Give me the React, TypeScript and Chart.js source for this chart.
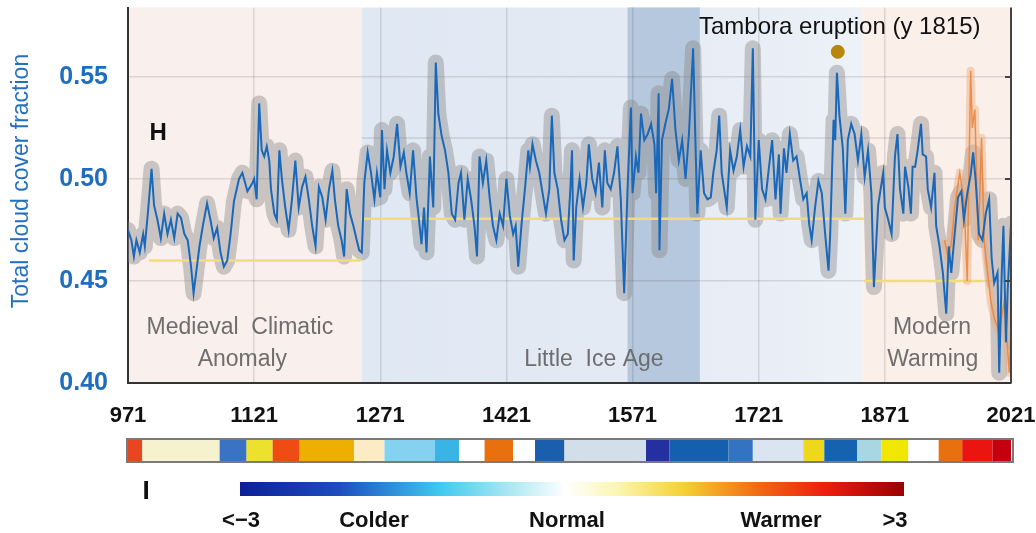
import { useEffect, useRef } from 'react';
import { Chart, registerables } from 'chart.js';

Chart.register(...registerables);

// ---------- data ----------
const xTickYears = [971, 1121, 1271, 1421, 1571, 1721, 1871, 2021];
const yTickValues = [0.4, 0.45, 0.5, 0.55];
const yRange = [0.4, 0.584];

// era boundaries (years): Medieval Climatic Anomaly | Little Ice Age | Modern Warming
const eraBounds = [971, 1249, 1844, 2021];
const coldestBand = [1565, 1651];

// mean cloud cover per era: [startYear, endYear, value]
const eraMeans = [
  [996, 1248, 0.46],
  [1248, 1846, 0.4805],
  [1846, 1988, 0.45],
];
const refLine = [1249, 2021, 0.52];

// reconstructed total cloud cover fraction [year, value]
const cloud971to1120 = [
  [971, 0.475], [975, 0.47], [978, 0.462], [981, 0.47], [985, 0.464], [989, 0.473], [991, 0.467],
  [995, 0.485], [999, 0.505], [1002, 0.487], [1006, 0.48], [1010, 0.471], [1014, 0.483], [1018, 0.473],
  [1022, 0.48], [1026, 0.471], [1030, 0.483], [1034, 0.481], [1038, 0.473], [1042, 0.47], [1046, 0.457],
  [1049, 0.444], [1052, 0.454], [1056, 0.467], [1060, 0.477], [1065, 0.488], [1069, 0.48], [1073, 0.471],
  [1077, 0.476], [1081, 0.464], [1085, 0.457], [1089, 0.46], [1093, 0.473], [1097, 0.489], [1103, 0.5],
  [1107, 0.503], [1113, 0.494], [1119, 0.498],
];
const cloud1121to1270 = [
  [1121, 0.5], [1124, 0.49], [1127, 0.537], [1130, 0.514], [1133, 0.511], [1136, 0.516], [1139, 0.509],
  [1141, 0.495], [1145, 0.483], [1148, 0.48], [1151, 0.514], [1154, 0.5], [1158, 0.486], [1162, 0.475],
  [1166, 0.49], [1170, 0.509], [1174, 0.486], [1178, 0.496], [1182, 0.501], [1186, 0.49], [1190, 0.477],
  [1194, 0.467], [1198, 0.496], [1202, 0.491], [1206, 0.48], [1210, 0.495], [1214, 0.504], [1217, 0.49],
  [1221, 0.477], [1225, 0.47], [1228, 0.462], [1231, 0.495], [1235, 0.483], [1239, 0.477], [1243, 0.47],
  [1246, 0.465], [1249, 0.464], [1252, 0.498], [1256, 0.513], [1260, 0.503], [1264, 0.49], [1267, 0.503],
];
const cloud1271to1420 = [
  [1271, 0.491], [1273, 0.524], [1276, 0.495], [1279, 0.514], [1283, 0.503], [1287, 0.511], [1291, 0.527],
  [1295, 0.506], [1299, 0.513], [1302, 0.503], [1306, 0.493], [1310, 0.514], [1314, 0.491], [1317, 0.48],
  [1320, 0.468], [1323, 0.486], [1326, 0.464], [1330, 0.511], [1334, 0.486], [1337, 0.557], [1340, 0.532],
  [1344, 0.521], [1348, 0.514], [1352, 0.503], [1356, 0.483], [1360, 0.48], [1364, 0.498], [1367, 0.503],
  [1371, 0.48], [1375, 0.5], [1379, 0.49], [1383, 0.477], [1386, 0.462], [1389, 0.511], [1393, 0.498],
  [1397, 0.509], [1401, 0.491], [1405, 0.477], [1409, 0.47], [1413, 0.483], [1417, 0.477], [1421, 0.5],
];
const cloud1421to1570 = [
  [1425, 0.482], [1429, 0.473], [1432, 0.477], [1435, 0.457], [1439, 0.478], [1443, 0.495], [1447, 0.514],
  [1449, 0.506], [1452, 0.517], [1456, 0.509], [1460, 0.503], [1464, 0.493], [1468, 0.483], [1472, 0.495],
  [1475, 0.531], [1478, 0.503], [1482, 0.495], [1486, 0.48], [1490, 0.47], [1494, 0.473], [1497, 0.495],
  [1499, 0.514], [1501, 0.46], [1504, 0.486], [1508, 0.5], [1512, 0.486], [1516, 0.498], [1519, 0.517],
  [1523, 0.5], [1527, 0.493], [1531, 0.508], [1535, 0.486], [1538, 0.514], [1541, 0.498], [1545, 0.495],
  [1549, 0.503], [1553, 0.516], [1557, 0.49], [1561, 0.444], [1565, 0.495], [1569, 0.535],
];
const cloud1571to1720 = [
  [1571, 0.493], [1575, 0.511], [1578, 0.503], [1581, 0.532], [1585, 0.519], [1589, 0.522], [1593, 0.527],
  [1597, 0.517], [1599, 0.493], [1602, 0.542], [1603, 0.465], [1606, 0.519], [1610, 0.527], [1614, 0.534],
  [1618, 0.549], [1622, 0.524], [1626, 0.509], [1630, 0.519], [1634, 0.5], [1638, 0.522], [1643, 0.564],
  [1646, 0.514], [1648, 0.483], [1652, 0.514], [1656, 0.493], [1660, 0.49], [1664, 0.491], [1667, 0.503],
  [1671, 0.514], [1674, 0.531], [1677, 0.503], [1683, 0.486], [1687, 0.514], [1691, 0.504], [1695, 0.511],
  [1699, 0.524], [1703, 0.506], [1707, 0.516], [1711, 0.511], [1714, 0.564], [1717, 0.48],
];
const cloud1721to1870 = [
  [1721, 0.519], [1725, 0.495], [1729, 0.49], [1733, 0.505], [1737, 0.519], [1741, 0.49], [1745, 0.512],
  [1747, 0.483], [1751, 0.515], [1754, 0.503], [1758, 0.522], [1762, 0.509], [1766, 0.511], [1770, 0.5],
  [1774, 0.49], [1778, 0.493], [1781, 0.478], [1784, 0.47], [1788, 0.486], [1792, 0.499], [1796, 0.493],
  [1800, 0.473], [1804, 0.455], [1806, 0.473], [1810, 0.529], [1812, 0.519], [1814, 0.552], [1817, 0.531],
  [1821, 0.515], [1824, 0.483], [1827, 0.519], [1831, 0.527], [1835, 0.522], [1839, 0.509], [1843, 0.522],
  [1847, 0.501], [1851, 0.514], [1855, 0.493], [1858, 0.447], [1863, 0.487], [1869, 0.503],
];
const cloud1871to2021 = [
  [1871, 0.486], [1875, 0.48], [1879, 0.473], [1883, 0.511], [1886, 0.522], [1889, 0.495], [1893, 0.483],
  [1895, 0.506], [1899, 0.496], [1902, 0.483], [1904, 0.506], [1907, 0.506], [1910, 0.514], [1914, 0.527],
  [1916, 0.512], [1920, 0.511], [1922, 0.495], [1926, 0.486], [1930, 0.503], [1932, 0.477], [1936, 0.467],
  [1940, 0.454], [1944, 0.434], [1947, 0.467], [1950, 0.454], [1954, 0.473], [1958, 0.491], [1962, 0.494],
  [1965, 0.48], [1969, 0.493], [1973, 0.502], [1976, 0.513], [1979, 0.499], [1983, 0.473], [1987, 0.47],
  [1991, 0.483], [1995, 0.49], [1998, 0.461], [2001, 0.449], [2005, 0.454], [2007, 0.405], [2010, 0.454],
  [2012, 0.477], [2015, 0.42], [2017, 0.445], [2021, 0.478],
];
// observational (instrumental) series
const observedSeries = [
  [1942, 0.47], [1946, 0.462], [1950, 0.468], [1954, 0.486], [1960, 0.503], [1965, 0.49], [1969, 0.45],
  [1973, 0.553], [1975, 0.525], [1978, 0.534], [1982, 0.47], [1986, 0.52], [1989, 0.47], [1993, 0.455],
  [1997, 0.44], [2001, 0.432], [2007, 0.425], [2013, 0.44], [2019, 0.405], [2021, 0.43],
];
const tambora = [1815, 0.5623];

// temperature anomaly strip: segment start years (last = end) and colours
const stripYears = [971, 988, 1080, 1112, 1143, 1175, 1240, 1276, 1336, 1365, 1395, 1429, 1455, 1490,
  1587, 1615, 1685, 1714, 1774, 1799, 1838, 1867, 1899, 1935, 1963, 1999, 2021];
const stripColors = ['#e8461e', '#f6f1cf', '#3a72c4', '#ece22e', '#ee4c12', '#eeb000', '#fbecc6',
  '#84d2f0', '#3ab4e4', '#ffffff', '#e8700e', '#ffffff', '#1a5fae', '#d3deeb', '#2430a0', '#1560ae',
  '#3472c2', '#dbe5f2', '#eed81e', '#1562b0', '#a8d6e2', '#f0e600', '#ffffff', '#e8700e', '#ea1410',
  '#c4000e'];

const legendLabels = ['<−3', 'Colder', 'Normal', 'Warmer', '>3'];

// ---------- chart ----------
const FONT = '"Liberation Sans", Arial, Helvetica, sans-serif';
const pts = (arr: number[][]) => arr.map(([x, y]) => ({ x, y }));

const bgPlugin = {
  id: 'eraBackground',
  beforeDraw(chart: any) {
    const { ctx, chartArea, scales } = chart;
    const x = scales.x;
    const { top, bottom } = chartArea;
    const h = bottom - top;
    ctx.save();
    const x0 = x.getPixelForValue(eraBounds[0]);
    const x1 = x.getPixelForValue(eraBounds[1]);
    const x2 = x.getPixelForValue(eraBounds[2]);
    const x3 = x.getPixelForValue(eraBounds[3]);
    ctx.fillStyle = '#f9efec';
    ctx.fillRect(x0, top, x1 - x0, h);
    const g = ctx.createLinearGradient(x1, 0, x2, 0);
    g.addColorStop(0, '#e0e8f3');
    g.addColorStop(0.5, '#e3eaf4');
    g.addColorStop(1, '#edf1f8');
    ctx.fillStyle = g;
    ctx.fillRect(x1, top, x2 - x1, h);
    ctx.fillStyle = '#fbefea';
    ctx.fillRect(x2, top, x3 - x2, h);
    const c0 = x.getPixelForValue(coldestBand[0]);
    const c1 = x.getPixelForValue(coldestBand[1]);
    ctx.fillStyle = '#b6c8dd';
    ctx.fillRect(c0, top, c1 - c0, h);
    ctx.restore();
  },
};

const overlayPlugin = {
  id: 'overlay',
  afterDraw(chart: any) {
    const { ctx, chartArea, scales } = chart;
    const x = scales.x;
    const y = scales.y;
    const { top, bottom, right, left } = chartArea;
    ctx.save();
    // right border with inward ticks
    ctx.strokeStyle = '#444';
    ctx.lineWidth = 2;
    ctx.beginPath();
    ctx.moveTo(right, top);
    ctx.lineTo(right, bottom);
    yTickValues.slice(1).forEach((v) => {
      const py = y.getPixelForValue(v);
      ctx.moveTo(right, py);
      ctx.lineTo(right - 6, py);
    });
    ctx.stroke();

    // y-axis title
    ctx.save();
    ctx.translate(22, 181);
    ctx.rotate(-Math.PI / 2);
    ctx.font = `23px ${FONT}`;
    ctx.fillStyle = '#2470bf';
    ctx.textAlign = 'center';
    ctx.textBaseline = 'middle';
    ctx.fillText('Total cloud cover fraction', 0, 0);
    ctx.restore();

    // panel letter
    ctx.font = `bold 24px ${FONT}`;
    ctx.fillStyle = '#111';
    ctx.textAlign = 'center';
    ctx.textBaseline = 'middle';
    ctx.fillText('H', x.getPixelForValue(1007), y.getPixelForValue(0.5225));

    // era labels
    ctx.font = `23px ${FONT}`;
    ctx.fillStyle = '#6e6e6e';
    ctx.fillText('Medieval  Climatic', x.getPixelForValue(1104), y.getPixelForValue(0.427));
    ctx.fillText('Anomaly', x.getPixelForValue(1107), y.getPixelForValue(0.4113));
    ctx.fillText('Little  Ice Age', x.getPixelForValue(1525), y.getPixelForValue(0.4113));
    ctx.fillText('Modern', x.getPixelForValue(1927), y.getPixelForValue(0.427));
    ctx.fillText('Warming', x.getPixelForValue(1928), y.getPixelForValue(0.4113));

    // Tambora annotation
    ctx.font = `24px ${FONT}`;
    ctx.fillStyle = '#111';
    ctx.textAlign = 'left';
    ctx.fillText('Tambora eruption (y 1815)', x.getPixelForValue(1650), y.getPixelForValue(0.5745));

    // temperature strip
    const sy = 440;
    const sh = 21;
    for (let i = 0; i < stripColors.length; i++) {
      const a = x.getPixelForValue(stripYears[i]);
      const b = x.getPixelForValue(stripYears[i + 1]);
      ctx.fillStyle = stripColors[i];
      ctx.fillRect(a, sy, b - a, sh);
    }
    ctx.strokeStyle = '#7a7a7a';
    ctx.lineWidth = 2;
    ctx.strokeRect(left - 1, sy - 1, right - left + 3, sh + 2);

    // panel letter I
    ctx.font = `bold 26px ${FONT}`;
    ctx.fillStyle = '#111';
    ctx.textAlign = 'center';
    ctx.fillText('I', 146, 492);

    // colour legend bar
    const lx0 = 240;
    const lx1 = 904;
    const lg = ctx.createLinearGradient(lx0, 0, lx1, 0);
    lg.addColorStop(0, '#0c1f96');
    lg.addColorStop(0.15, '#1d4ec0');
    lg.addColorStop(0.3, '#3fc8ef');
    lg.addColorStop(0.42, '#b8ecf4');
    lg.addColorStop(0.49, '#ffffff');
    lg.addColorStop(0.57, '#fbf6b0');
    lg.addColorStop(0.67, '#f5d030');
    lg.addColorStop(0.78, '#f26a14');
    lg.addColorStop(0.88, '#ee1e10');
    lg.addColorStop(1, '#9a0000');
    ctx.fillStyle = lg;
    ctx.fillRect(lx0, 482, lx1 - lx0, 14);

    ctx.font = `bold 22px ${FONT}`;
    ctx.fillStyle = '#111';
    const lpos = [241, 374, 567, 781, 895];
    legendLabels.forEach((t, i) => ctx.fillText(t, lpos[i], 521));
    ctx.restore();
  },
};

export default function App() {
  const ref = useRef<HTMLCanvasElement>(null);
  useEffect(() => {
    document.body.style.margin = '0';
    const cloud = [
      ...cloud971to1120, ...cloud1121to1270, ...cloud1271to1420, ...cloud1421to1570,
      ...cloud1571to1720, ...cloud1721to1870, ...cloud1871to2021,
    ];
    const meanSets = eraMeans.map(([a, b, v]) => ({
      data: pts([[a, v], [b, v]]),
      borderColor: '#f0dc78',
      borderWidth: 2.5,
      pointRadius: 0,
      order: 3,
    }));
    const chart = new Chart(ref.current as HTMLCanvasElement, {
      type: 'line',
      data: {
        datasets: [
          {
            data: pts([[tambora[0], tambora[1]]]),
            showLine: false,
            pointRadius: 6.5,
            pointBackgroundColor: '#b8860b',
            pointBorderColor: '#b8860b',
            order: 0,
          },
          {
            data: pts(cloud),
            borderColor: '#1a68b9',
            borderWidth: 2,
            pointRadius: 0,
            tension: 0,
            order: 1,
          },
          {
            data: pts(observedSeries),
            borderColor: 'rgba(230,130,60,0.85)',
            borderWidth: 1.5,
            pointRadius: 0,
            order: 2,
          },
          {
            data: pts(observedSeries),
            borderColor: 'rgba(240,170,120,0.45)',
            borderWidth: 8,
            pointRadius: 0,
            borderJoinStyle: 'round',
            order: 2.5,
          },
          ...meanSets,
          {
            data: pts([[refLine[0], refLine[2]], [refLine[1], refLine[2]]]),
            borderColor: 'rgba(0,0,0,0.12)',
            borderWidth: 1.5,
            pointRadius: 0,
            order: 6,
          },
          {
            data: pts(cloud),
            borderColor: 'rgba(135,135,135,0.42)',
            borderWidth: 16,
            pointRadius: 0,
            borderJoinStyle: 'round',
            borderCapStyle: 'round',
            order: 5,
          },
        ] as any,
      },
      options: {
        responsive: false,
        animation: false,
        devicePixelRatio: 1,
        layout: { padding: { top: 7, right: 25, left: 0, bottom: 0 } },
        plugins: { legend: { display: false }, tooltip: { enabled: false } },
        scales: {
          x: {
            type: 'linear',
            min: xTickYears[0],
            max: xTickYears[xTickYears.length - 1],
            afterBuildTicks: (s: any) => {
              s.ticks = xTickYears.map((v) => ({ value: v }));
            },
            afterFit: (s: any) => {
              s.height = 150;
              s.paddingLeft = 0;
              s.paddingRight = 0;
              s.paddingTop = 0;
              s.paddingBottom = 0;
            },
            grid: {
              drawTicks: false,
              color: (c: any) =>
                c.index === 0 || c.index === xTickYears.length - 1 ? 'rgba(0,0,0,0)' : 'rgba(0,0,0,0.11)',
              lineWidth: 1.5,
            },
            border: { display: true, color: '#333', width: 2 },
            ticks: {
              padding: 20,
              color: '#111',
              font: { family: FONT, size: 22, weight: 'bold' },
              maxRotation: 0,
              autoSkip: false,
              callback: (v: any) => String(v),
            },
          },
          y: {
            min: yRange[0],
            max: yRange[1],
            afterBuildTicks: (s: any) => {
              s.ticks = yTickValues.map((v) => ({ value: v }));
            },
            afterFit: (s: any) => {
              s.width = 128;
              s.paddingLeft = 0;
              s.paddingRight = 0;
              s.paddingTop = 0;
              s.paddingBottom = 0;
            },
            grid: { drawTicks: false, color: 'rgba(0,0,0,0.11)', lineWidth: 1.5 },
            border: { display: true, color: '#333', width: 2 },
            ticks: {
              padding: 20,
              color: '#1f6dbd',
              font: { family: FONT, size: 25, weight: 'bold' },
              callback: (v: any) => Number(v).toFixed(2),
            },
          },
        },
      } as any,
      plugins: [bgPlugin, overlayPlugin],
    });
    return () => chart.destroy();
  }, []);
  return <canvas ref={ref} width={1036} height={533} style={{ display: 'block' }} />;
}
